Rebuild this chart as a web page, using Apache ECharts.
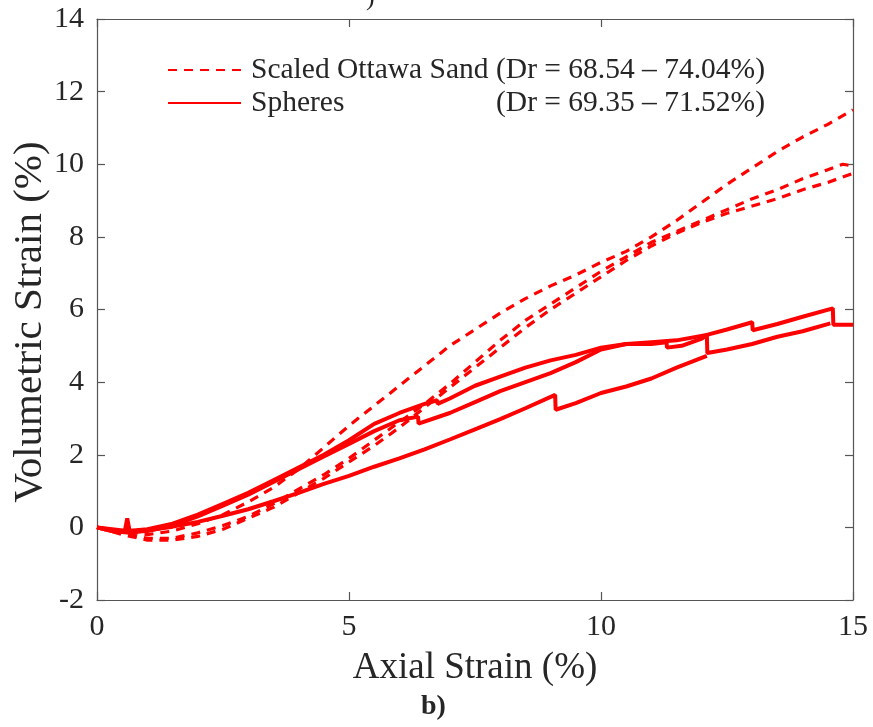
<!DOCTYPE html>
<html>
<head>
<meta charset="utf-8">
<script src="https://cdn.jsdelivr.net/npm/echarts@6/dist/echarts.min.js"></script>
<style>
  html, body { margin: 0; padding: 0; background: #fff; }
  #chart { width: 873px; height: 727px; }
</style>
</head>
<body>
<div id="chart"></div>
<script>
// Volumetric strain (%) vs axial strain (%) — [axial, volumetric] pairs per test
const sandTest1 = [[0,0],[0.5,-0.1],[1,-0.2],[1.5,-0.1],[2,0.1],[2.5,0.35],[3,0.7],[3.5,1.1],[4,1.6],[4.5,2.2],[5,2.8],[5.5,3.35],[6,3.9],[6.5,4.45],[7,5.0],[7.5,5.45],[8,5.9],[8.5,6.3],[9,6.65],[9.5,6.95],[10,7.3],[10.5,7.6],[11,8.0],[11.5,8.45],[12,8.95],[12.5,9.45],[13,9.9],[13.5,10.35],[14,10.75],[14.5,11.1],[15,11.5]];
const sandTest2 = [[0,0],[0.5,-0.15],[1,-0.3],[1.5,-0.3],[2,-0.15],[2.5,0.05],[3,0.3],[3.5,0.65],[4,1.05],[4.5,1.45],[5,1.9],[5.5,2.4],[6,2.9],[6.5,3.4],[7,3.95],[7.5,4.55],[8,5.15],[8.5,5.7],[9,6.15],[9.5,6.6],[10,7.05],[10.5,7.45],[11,7.85],[11.5,8.15],[12,8.45],[12.5,8.75],[13,9.05],[13.5,9.3],[14,9.6],[14.5,9.85],[14.8,10.0],[15,9.95]];
const sandTest3 = [[0,0],[0.5,-0.2],[1,-0.35],[1.5,-0.35],[2,-0.25],[2.5,-0.05],[3,0.25],[3.5,0.55],[4,0.95],[4.5,1.35],[5,1.8],[5.5,2.25],[6,2.75],[6.5,3.3],[7,3.85],[7.5,4.4],[8,4.95],[8.5,5.5],[9,6.0],[9.5,6.45],[10,6.9],[10.5,7.35],[11,7.75],[11.5,8.1],[12,8.4],[12.5,8.65],[13,8.85],[13.5,9.05],[14,9.3],[14.5,9.5],[15,9.75]];

const sphereTest1 = [[0,0],[0.3,-0.05],[0.6,-0.1],[1,-0.05],[1.5,0.1],[2,0.35],[2.5,0.65],[3,0.95],[3.5,1.3],[4,1.65],[4.5,2.0],[5,2.4],[5.5,2.85],[6,3.15],[6.5,3.4],[6.75,3.5],[6.76,3.4],[7,3.55],[7.5,3.9],[8,4.15],[8.5,4.4],[9,4.6],[9.5,4.75],[10,4.95],[10.5,5.05],[11,5.05],[11.3,5.1],[11.31,4.95],[11.6,5.0],[12,5.2],[12.1,5.3],[12.5,5.45],[13,5.65],[13.01,5.43],[13.5,5.6],[14,5.8],[14.6,6.03],[14.61,5.58],[15,5.58]];
const sphereTest2 = [[0,0],[0.3,-0.1],[0.55,-0.12],[0.6,0.25],[0.65,-0.12],[1,-0.1],[1.5,0.05],[2,0.3],[2.5,0.6],[3,0.9],[3.5,1.25],[4,1.6],[4.5,1.95],[5,2.3],[5.5,2.65],[6,2.95],[6.37,3.05],[6.38,2.86],[7,3.15],[7.5,3.45],[8,3.75],[8.5,4.0],[9,4.25],[9.5,4.55],[10,4.9],[10.5,5.05],[11,5.1],[11.5,5.15],[12.1,5.3],[12.11,4.8],[12.5,4.9],[13,5.05],[13.5,5.25],[14,5.4],[14.55,5.62]];
const sphereTest3 = [[0,0],[0.3,-0.1],[0.65,-0.15],[1,-0.08],[1.5,0.02],[2,0.15],[2.5,0.32],[3,0.5],[3.5,0.72],[4,0.95],[4.5,1.2],[5,1.42],[5.5,1.67],[6,1.9],[6.5,2.15],[7,2.42],[7.5,2.7],[8,2.98],[8.5,3.28],[9.09,3.65],[9.1,3.24],[9.5,3.42],[10,3.7],[10.5,3.88],[11,4.1],[11.5,4.4],[12.1,4.72]];

const sandName = 'Scaled Ottawa Sand';
const sphereName = 'Spheres';
const sandRange = '(Dr = 68.54 – 74.04%)';
const sphereRange = '(Dr = 69.35 – 71.52%)';

const xTicks = [0, 5, 10, 15];
const yTicks = [-2, 0, 2, 4, 6, 8, 10, 12, 14];

const RED = '#ff0000';
const INK = '#262626';
const FONT = '"Liberation Serif", "Times New Roman", serif';

function sandSeries(data) {
  return {
    name: sandName, type: 'line', data: data, showSymbol: false, symbol: 'none',
    lineStyle: { color: RED, width: 3.2, type: [9, 7] }, itemStyle: { color: RED },
    animation: false, z: 3
  };
}
function sphereSeries(data) {
  return {
    name: sphereName, type: 'line', data: data, showSymbol: false, symbol: 'none',
    lineStyle: { color: RED, width: 4 }, itemStyle: { color: RED },
    animation: false, z: 4
  };
}

const chart = echarts.init(document.getElementById('chart'), null, { renderer: 'canvas' });

const baseAxis = {
  axisLine: { show: true, onZero: false, lineStyle: { color: '#555', width: 1.2 } },
  axisTick: { show: true, inside: true, length: 8, lineStyle: { color: '#555', width: 1.2 } },
  splitLine: { show: false }
};

chart.setOption({
  backgroundColor: '#ffffff',
  animation: false,
  grid: { left: 97, right: 20, top: 19, bottom: 127, containLabel: false },
  legend: {
    left: 162, top: 50, orient: 'vertical', itemGap: 3,
    itemWidth: 73, itemHeight: 30,
    data: [sandName, sphereName],
    itemStyle: { opacity: 0 },
    lineStyle: { width: 2 },
    formatter: function (name) {
      return '{a|' + name + '}{b|' + (name === sandName ? sandRange : sphereRange) + '}';
    },
    textStyle: {
      color: INK, fontFamily: FONT, fontSize: 29.5, padding: [0, 0, 0, 5],
      rich: {
        a: { width: 245, fontFamily: FONT, fontSize: 29.5, color: INK },
        b: { fontFamily: FONT, fontSize: 29.5, color: INK }
      }
    },
    selectedMode: false
  },
  xAxis: [
    Object.assign({}, baseAxis, {
      type: 'value', min: 0, max: 15, interval: 5, position: 'bottom',
      name: 'Axial Strain (%)', nameLocation: 'middle', nameGap: 50,
      nameTextStyle: { fontFamily: FONT, fontSize: 37, color: INK },
      axisLabel: { margin: 12, fontFamily: FONT, fontSize: 30, color: INK,
        formatter: v => xTicks.includes(v) ? String(v) : '' }
    }),
    Object.assign({}, baseAxis, {
      type: 'value', min: 0, max: 15, interval: 5, position: 'top',
      axisLabel: { show: false }
    })
  ],
  yAxis: [
    Object.assign({}, baseAxis, {
      type: 'value', min: -2, max: 14, interval: 2, position: 'left',
      axisLabel: { margin: 13, fontFamily: FONT, fontSize: 30, color: INK,
        formatter: v => yTicks.includes(v) ? String(v) : '' }
    }),
    Object.assign({}, baseAxis, {
      type: 'value', min: -2, max: 14, interval: 2, position: 'right',
      axisLabel: { show: false }
    })
  ],
  graphic: [
    { type: 'text', x: 30, y: 322, rotation: Math.PI / 2,
      style: { text: 'Volumetric Strain (%)', fontFamily: FONT, fontSize: 41, fill: INK,
               align: 'center', verticalAlign: 'middle' } },
    { type: 'text', left: 421, top: 693,
      style: { text: 'b)', fontFamily: FONT, fontSize: 28, fontWeight: 'bold', fill: INK } },
    { type: 'text', left: 366, top: -15,
      style: { text: ')', fontFamily: FONT, fontSize: 26, fill: INK } }
  ],
  series: [
    sandSeries(sandTest1), sandSeries(sandTest2), sandSeries(sandTest3),
    sphereSeries(sphereTest1), sphereSeries(sphereTest2), sphereSeries(sphereTest3)
  ]
});
</script>
</body>
</html>
